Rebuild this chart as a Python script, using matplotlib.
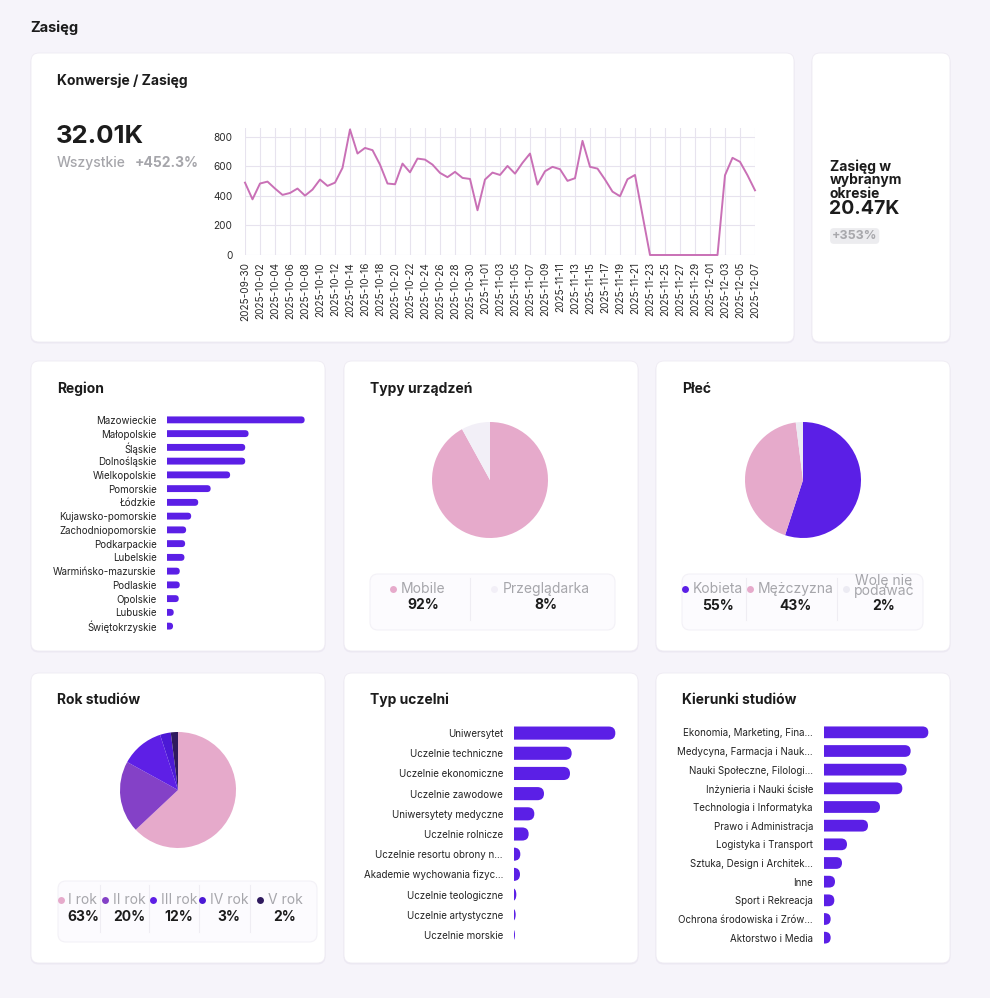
import matplotlib
matplotlib.use('Agg')
import matplotlib.pyplot as plt
from matplotlib.patches import FancyBboxPatch
import pandas as pd

plt.rcParams['font.family'] = ['Inter', 'DejaVu Sans']

# ---------------- data ----------------
page_title = 'Zasięg'
line_title = 'Konwersje / Zasięg'
kpi_total = '32.01K'
kpi_label = 'Wszystkie'
kpi_change = '+452.3%'
side_title = 'Zasięg w\nwybranym\nokresie'
side_total = '20.47K'
side_change = '+353%'

reach_start = '2025-09-30'
reach_values = [490, 377, 484, 497, 450, 407, 420, 450, 402, 443,
                511, 468, 490, 590, 850, 687, 725, 710, 612, 484,
                479, 619, 560, 653, 646, 612, 556, 527, 563, 522,
                515, 303, 511, 558, 542, 603, 551, 624, 687, 477,
                567, 597, 581, 502, 520, 773, 597, 585, 511, 429,
                398, 513, 542, 270, 0, 0, 0, 0, 0, 0,
                0, 0, 0, 0, 540, 658, 631, 540, 438]
reach_yticks = [0, 200, 400, 600, 800]

region_names = ['Mazowieckie', 'Małopolskie', 'Śląskie', 'Dolnośląskie', 'Wielkopolskie',
                'Pomorskie', 'Łódzkie', 'Kujawsko-pomorskie', 'Zachodniopomorskie',
                'Podkarpackie', 'Lubelskie', 'Warmińsko-mazurskie', 'Podlaskie',
                'Opolskie', 'Lubuskie', 'Świętokrzyskie']
region_values = [410, 243, 233, 233, 188, 130, 93, 72, 57, 54, 52, 38, 38, 35, 20, 18]

uni_names = ['Uniwersytet', 'Uczelnie techniczne', 'Uczelnie ekonomiczne', 'Uczelnie zawodowe',
             'Uniwersytety medyczne', 'Uczelnie rolnicze', 'Uczelnie resortu obrony n...',
             'Akademie wychowania fizyc...', 'Uczelnie teologiczne', 'Uczelnie artystyczne',
             'Uczelnie morskie']
uni_values = [304, 173, 168, 90, 61, 44, 19, 18, 7, 5, 3]

field_names = ['Ekonomia, Marketing, Fina...', 'Medycyna, Farmacja i Nauk...',
               'Nauki Społeczne, Filologi...', 'Inżynieria i Nauki ścisłe',
               'Technologia i Informatyka', 'Prawo i Administracja', 'Logistyka i Transport',
               'Sztuka, Design i Architek...', 'Inne', 'Sport i Rekreacja',
               'Ochrona środowiska i Zrów...', 'Aktorstwo i Media']
field_values = [313, 260, 248, 235, 168, 132, 69, 54, 33, 31, 20, 20]

device_labels = ['Mobile', 'Przeglądarka']
device_values = [92, 8]
gender_labels = ['Kobieta', 'Mężczyzna', 'Wolę nie\npodawać']
gender_values = [55, 43, 2]
year_labels = ['I rok', 'II rok', 'III rok', 'IV rok', 'V rok']
year_values = [63, 20, 12, 3, 2]

# ---------------- style ----------------
BG = '#f6f4fa'
PURPLE = '#5b1fe6'
PINK = '#e6aacb'
LINE = '#c970b6'
GRAY = '#a6a6ab'
DARK = '#1c1c1c'
device_colors = [PINK, '#f2eff7']
gender_colors = [PURPLE, PINK, '#ecebf3']
year_colors = [PINK, '#8441c7', '#5e1fe6', '#4c19d6', '#2f1a5e']

W, H = 990, 998
fig = plt.figure(figsize=(W / 100, H / 100), dpi=100, facecolor=BG)
bg = fig.add_axes([0, 0, 1, 1], zorder=0)
bg.set_xlim(0, W)
bg.set_ylim(H, 0)
bg.axis('off')


def add_px(x, y, w, h):
    ax = fig.add_axes([x / W, 1 - (y + h) / H, w / W, h / H], zorder=2)
    ax.set_facecolor('none')
    return ax


def card(x0, y0, x1, y1):
    bg.add_patch(FancyBboxPatch((x0 - 0.5, y0 + 1.5), x1 - x0 + 1, y1 - y0,
                                boxstyle="round,pad=0,rounding_size=8",
                                fc='#e9e5f0', ec='none', alpha=0.7))
    bg.add_patch(FancyBboxPatch((x0, y0), x1 - x0, y1 - y0,
                                boxstyle="round,pad=0,rounding_size=8",
                                fc='white', ec='#eeebf3', lw=0.6))


for c in [(31, 53, 794, 342), (812, 53, 950, 342),
          (31, 361, 325, 651), (344, 361, 638, 651), (656, 361, 950, 651),
          (31, 673, 325, 963), (344, 673, 638, 963), (656, 673, 950, 963)]:
    card(*c)

# ---------------- texts ----------------
bg.text(30, 28, page_title, fontsize=10.5, fontweight='bold', color=DARK, va='center')
bg.text(57, 81, line_title, fontsize=10, fontweight='bold', color=DARK, va='center')
bg.text(56, 136, kpi_total, fontsize=18.5, fontweight='bold', color=DARK, va='center')
bg.text(57, 163, kpi_label, fontsize=10, color=GRAY, va='center', fontweight='medium')
bg.text(135, 163, kpi_change, fontsize=10, color=GRAY, va='center', fontweight='bold')

bg.text(830, 180, side_title, fontsize=10, fontweight='bold', color=DARK, va='center',
        linespacing=0.95)
bg.text(829, 209, side_total, fontsize=14, fontweight='bold', color=DARK, va='center')
bg.text(832, 236, side_change, fontsize=9, color='#a8a8ac', fontweight='bold', va='center',
        bbox=dict(boxstyle='round,pad=0.15,rounding_size=0.3', fc='#ececef', ec='none'))

for x, y, t in [(57, 389, 'Region'), (370, 389, 'Typy urządzeń'), (682, 389, 'Płeć'),
                (57, 700, 'Rok studiów'), (370, 700, 'Typ uczelni'), (682, 700, 'Kierunki studiów')]:
    bg.text(x, y, t, fontsize=10, fontweight='bold', color=DARK, va='center')

# ---------------- line chart ----------------
axL = add_px(245, 128, 510, 127)
dates = pd.date_range(reach_start, periods=len(reach_values), freq='D')
axL.plot(dates, reach_values, color=LINE, lw=1.4, clip_on=False, zorder=3)
axL.set_xlim(dates[0], dates[-1])
axL.set_ylim(0, 860)
axL.set_yticks(reach_yticks)
axL.set_xticks(dates[::2])
axL.set_xticklabels([d.strftime('%Y-%m-%d') for d in dates[::2]], rotation=90)
axL.tick_params(axis='both', length=0, labelsize=7.2, labelcolor='#2a2a2a')
axL.tick_params(axis='y', pad=9)
axL.tick_params(axis='x', pad=5)
axL.grid(True, color='#e7e3ee', lw=0.8)
for s in axL.spines.values():
    s.set_visible(False)


# ---------------- bar charts ----------------
def bar_chart(x, top, w, h, names, values, xmax, bar_h, pad):
    ax = add_px(x, top, w, h)
    n = len(values)
    ax.set_xlim(0, xmax)
    ax.set_ylim(n - 0.5, -0.5)
    px_x = w / xmax
    px_y = h / n
    r_px = bar_h * px_y / 2
    for i, v in enumerate(values):
        r_x = r_px / px_x
        rs = min(r_x, (v + r_x) / 2)
        ma = (bar_h / 2) / rs
        ax.add_patch(FancyBboxPatch((-rs, i - bar_h / 2), v + rs, bar_h,
                                    boxstyle=f"round,pad=0,rounding_size={rs}",
                                    mutation_aspect=ma, fc=PURPLE, ec='none'))
    ax.set_yticks(range(n))
    ax.set_yticklabels(names)
    ax.set_xticks([])
    ax.tick_params(axis='y', length=0, labelsize=7, labelcolor='#222222', pad=pad)
    for s in ax.spines.values():
        s.set_visible(False)
    return ax


bar_chart(167, 413, 141, 220, region_names, region_values, 420, 0.5, 7.5)
bar_chart(514, 723, 105, 222, uni_names, uni_values, 315, 0.65, 8)
bar_chart(824, 723, 110, 224, field_names, field_values, 330, 0.63, 8)


# ---------------- pies ----------------
def pie(cx, cy, r, values, colors):
    ax = add_px(cx - r, cy - r, 2 * r, 2 * r)
    ax.pie(values, colors=colors, startangle=90, counterclock=False,
           wedgeprops=dict(linewidth=0))
    ax.set_xlim(-1, 1)
    ax.set_ylim(-1, 1)
    ax.set_aspect('equal')
    return ax


pie(490, 480, 58, device_values, device_colors)
pie(803, 480, 58, gender_values, gender_colors)
pie(178, 790, 58, year_values, year_colors)

renderer = fig.canvas.get_renderer()


def legend(box, seps, centers, labels, values, colors, y_lab, y_val):
    x0, y0, x1, y1 = box
    bg.add_patch(FancyBboxPatch((x0, y0), x1 - x0, y1 - y0,
                                boxstyle="round,pad=0,rounding_size=8",
                                fc='#fcfbfe', ec='#f3f1f7', lw=0.8))
    for sx in seps:
        bg.plot([sx, sx], [y0 + 4, y1 - 10], color='#efedf3', lw=0.8)
    for cx, lab, v, c in zip(centers, labels, values, colors):
        ly = y_lab - 3 if '\n' in lab else y_lab
        t = bg.text(cx, ly, lab, fontsize=10, color=GRAY, ha='center', va='center',
                    linespacing=0.72)
        bb = t.get_window_extent(renderer)
        left = bg.transData.inverted().transform((bb.x0, bb.y0))[0]
        bg.plot(left - 8, y_lab, 'o', ms=5, color=c, mec='none')
        bg.text(cx, y_val, f'{v}%', fontsize=10, fontweight='bold', color=DARK,
                ha='center', va='center')


legend((370, 574, 615, 630), [470], [423, 546], device_labels, device_values,
       device_colors, 589, 605)
legend((682, 574, 923, 630), [746, 837], [718, 796, 884], gender_labels, gender_values,
       gender_colors, 589, 606)
legend((58, 881, 317, 942), [100, 149, 199, 250], [83, 129, 179, 229, 285], year_labels,
       year_values, year_colors, 900, 917)

fig.savefig('out.png', dpi=100, facecolor=BG)
